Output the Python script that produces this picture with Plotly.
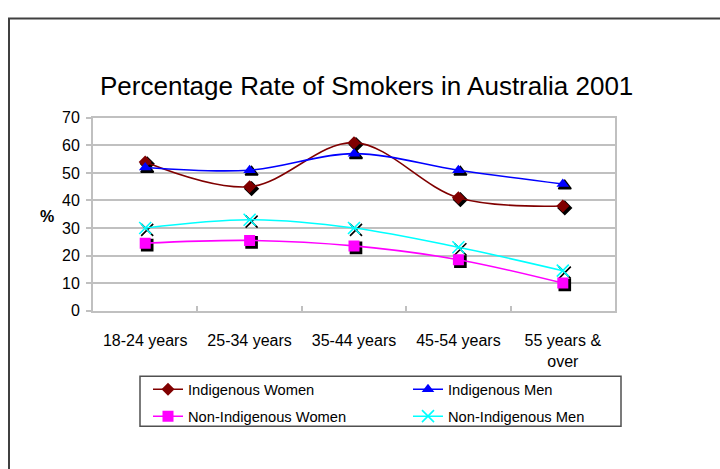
import plotly.graph_objects as go

# Smoking rates (%) by age group, Australia 2001
age_groups = ["18-24 years", "25-34 years", "35-44 years", "45-54 years", "55 years &<br>over"]
indigenous_women = [54, 45, 61, 41, 38]
indigenous_men = [52, 51, 57, 51, 46]
non_indigenous_women = [24.5, 25.5, 23.5, 18.5, 10]
non_indigenous_men = [30, 33, 30, 23, 14.5]
y_ticks = [0, 10, 20, 30, 40, 50, 60, 70]

W, H = 720, 469
FONT = "Liberation Sans, Arial, sans-serif"

# plot area in pixels
PL, PR, PT, PB = 93, 615, 114, 314
SHADOW = 2  # marker drop-shadow offset, px


def xdom(dx=0):
    return [(PL + dx) / W, (PR + dx) / W]


def ydom(dy=0):
    return [1 - (PB + dy) / H, 1 - (PT + dy) / H]


# name, values, colour, marker symbol, marker size, legend row
series = [
    ("Indigenous Women", indigenous_women, "#800000", "diamond", 10, "legend"),
    ("Indigenous Men", indigenous_men, "#0000FF", "triangle-up", 11, "legend"),
    ("Non-Indigenous Women", non_indigenous_women, "#FF00FF", "square", 11, "legend2"),
    ("Non-Indigenous Men", non_indigenous_men, "#00FFFF", "x-thin-open", 12, "legend2"),
]

fig = go.Figure()

# base subplot: carries the visible axes and gridlines
fig.add_trace(go.Scatter(
    x=age_groups, y=indigenous_women, mode="markers", xaxis="x", yaxis="y",
    marker=dict(opacity=0), showlegend=False, hoverinfo="skip",
))

# black drop shadows behind each marker (subplot offset by a couple of pixels)
for name, vals, color, sym, size, lg in series:
    fig.add_trace(go.Scatter(
        x=age_groups, y=vals, mode="markers", xaxis="x2", yaxis="y2",
        marker=dict(symbol=sym, size=size, color="black",
                    line=dict(color="black", width=1.6)),
        showlegend=False, hoverinfo="skip",
    ))

# smoothed series lines with markers
for name, vals, color, sym, size, lg in series:
    fig.add_trace(go.Scatter(
        x=age_groups, y=vals, name=name, mode="lines+markers",
        xaxis="x3", yaxis="y3", legend=lg,
        line=dict(color=color, width=1.6, shape="spline", smoothing=1.0),
        marker=dict(symbol=sym, size=size, color=color,
                    line=dict(color=color, width=1.6 if sym.startswith("x") else 0)),
    ))

hidden = dict(visible=False, showgrid=False, zeroline=False)

legend_common = dict(
    orientation="h", xanchor="left", yanchor="middle",
    entrywidth=215, entrywidthmode="pixels",
    borderwidth=0, bgcolor="rgba(0,0,0,0)",
    font=dict(family=FONT, size=14.7, color="black"),
    traceorder="normal",
)

fig.update_layout(
    width=W, height=H,
    margin=dict(l=0, r=0, t=0, b=0),
    paper_bgcolor="white", plot_bgcolor="rgba(0,0,0,0)",
    font=dict(family=FONT, size=16, color="black"),
    xaxis=dict(
        domain=xdom(), anchor="y", type="category",
        categoryorder="array", categoryarray=age_groups,
        range=[-0.5, 4.5], tickson="boundaries",
        ticks="inside", ticklen=5, tickcolor="#C0C0C0", tickwidth=2,
        showline=True, linecolor="#C0C0C0", linewidth=2, mirror=True,
        showgrid=False, zeroline=False, ticklabelstandoff=14,
        tickfont=dict(size=16),
    ),
    yaxis=dict(
        domain=ydom(), anchor="x", range=[0, 70], tickvals=y_ticks,
        ticks="outside", ticklen=5, tickcolor="#C0C0C0", tickwidth=2,
        showline=True, linecolor="#C0C0C0", linewidth=2, mirror=True,
        showgrid=True, gridcolor="#C0C0C0", gridwidth=1.5, zeroline=False,
        tickfont=dict(size=16), ticklabelstandoff=3,
    ),
    xaxis2=dict(domain=xdom(SHADOW), anchor="y2", type="category",
                categoryorder="array", categoryarray=age_groups,
                range=[-0.5, 4.5], **hidden),
    yaxis2=dict(domain=ydom(SHADOW), anchor="x2", range=[0, 70], **hidden),
    xaxis3=dict(domain=xdom(), anchor="y3", type="category",
                categoryorder="array", categoryarray=age_groups,
                range=[-0.5, 4.5], **hidden),
    yaxis3=dict(domain=ydom(), anchor="x3", range=[0, 70], **hidden),
    legend=dict(x=148 / W, y=1 - 396 / H, **legend_common),
    legend2=dict(x=148 / W, y=1 - 424 / H, **legend_common),
    showlegend=True,
)

# chart title and y-axis caption
fig.add_annotation(text="Percentage Rate of Smokers in Australia 2001",
                   x=366 / W, y=1 - 81 / H, xref="paper", yref="paper",
                   xanchor="center", yanchor="middle", showarrow=False,
                   font=dict(family=FONT, size=26, color="black"))
fig.add_annotation(text="<b>%</b>", x=47 / W, y=1 - 216 / H,
                   xref="paper", yref="paper", xanchor="center", yanchor="middle",
                   showarrow=False, font=dict(family=FONT, size=16, color="black"))

# legend frame
fig.add_shape(type="rect", xref="paper", yref="paper",
              x0=140 / W, x1=621 / W, y0=1 - 434 / H, y1=1 - 382 / H,
              line=dict(color="#505050", width=1.5), fillcolor="white",
              layer="below")

# outer chart frame
fig.add_shape(type="rect", xref="paper", yref="paper",
              x0=9 / W, x1=730 / W, y0=1 - 480 / H, y1=1 - 11 / H,
              line=dict(color="#404040", width=2), fillcolor="rgba(0,0,0,0)",
              layer="below")

fig.write_html("out.html")
